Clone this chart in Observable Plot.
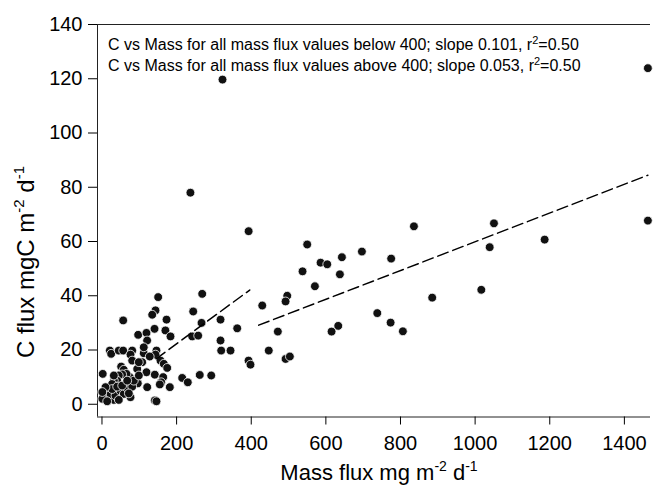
<!DOCTYPE html>
<html><head><meta charset="utf-8">
<script src="https://cdn.jsdelivr.net/npm/d3@7"></script>
<script src="https://cdn.jsdelivr.net/npm/@observablehq/plot@0.6"></script>
<style>
body{margin:0;background:#fff;}
#chart{width:655px;height:485px;}
</style>
</head><body><div id="chart"></div>
<script>
// Mass flux (mg m-2 d-1) and C flux (mgC m-2 d-1)
const massLow = [2,21,24.6,45,56.8,81,76.4,112,146,143.4,156.8,165.7,174.8,128,107.7,81,94.4,51.4,58.4,119.3,141.6,164,158.7,155,181.8,121.2,96,141.6,146,215,230,262,292.8,76.4,63,74.5,65.7,54,45,40.7,31.8,27.3,13.9,9.4,4.9,18.3,31.8,22.8,36.2,49.6,58.6,45.1,67.6,27.3,1,13.9,40.7,54.1,81,85.4,67.6,98.8,31.8,9.4,1,98.7,72,
  150.6,268.6,143.4,134.6,56.8,173,244.5,266.8,317.7,97,119.3,140.8,170,183.6,121,112,241.8,257.8,317.7,362.4,319.5,344.5,392.8,398,237,393,323];
const carbonLow = [11.2,19.8,18.6,19.8,19.8,19.8,18.3,18.8,19.8,18.3,16.1,14.9,13.4,17.6,15.5,16.1,13,13.9,12.7,11.8,10.9,10,8.1,7.3,6.3,6.3,7.7,1.4,1.1,9.7,8.1,10.8,10.6,2.6,4.4,10,11.2,11,10.6,8.7,8.7,7.5,5,3.8,2.9,2,1.6,3.8,3.2,5,3.8,1.6,6,5.6,2,1.1,6.5,6.9,6.5,8.7,8.7,10.6,10.6,6.3,4.5,15.5,4,
  39.5,40.7,34.6,33,30.9,31.2,34.2,30,31.2,25.6,26.3,27.8,27.2,25,23.5,21,25,25.3,23.5,28,19.8,19.8,16.1,14.6,78,63.8,119.7];
const massHigh = [429.5,496.5,492,447,471.3,492,503.5,537.5,550,585.8,603.7,637.6,643,570.6,696.6,775,836,615.3,633.2,737.8,773.5,806.4,885,1016.6,1039,1050.5,1186.3,1463,1463];
const carbonHigh = [36.4,40,37.9,19.8,26.8,16.7,17.6,49,58.9,52.2,51.6,47.9,54.2,43.5,56.3,53.7,65.6,26.8,28.9,33.6,30.1,26.9,39.3,42.2,57.9,66.7,60.7,67.7,123.9];

// Regression fits (below / above 400)
const fitSlopes = [0.101, 0.053];
const fitIntercepts = [2.1, 6.9];
const fitFrom = [145, 420];
const fitTo = [396, 1463];

const xTicks = [0,200,400,600,800,1000,1200,1400];
const yTicks = [0,20,40,60,80,100,120,140];
const noteStart = ["C vs Mass for all mass flux values below 400; slope 0.101, r", "C vs Mass for all mass flux values above 400; slope 0.053, r"];
const noteEnd = ["=0.50", "=0.50"];

const points = massLow.map((m,i)=>({mass:m, carbon:carbonLow[i]}))
  .concat(massHigh.map((m,i)=>({mass:m, carbon:carbonHigh[i]})));
const fits = fitSlopes.flatMap((s,i)=>[
  {fit:i, mass:fitFrom[i], carbon:fitIntercepts[i]+s*fitFrom[i]},
  {fit:i, mass:fitTo[i], carbon:fitIntercepts[i]+s*fitTo[i]}
]);

const xDom = [-12, 1470], yDom = [-4.7, 140];
const font = "'Liberation Sans', Arial, sans-serif";

const chart = Plot.plot({
  width: 655, height: 485,
  marginLeft: 97, marginRight: 5, marginTop: 24, marginBottom: 68.5,
  x: {domain: xDom},
  y: {domain: yDom},
  style: {fontFamily: font, fontSize: "20px", color: "#000", background: "#fff"},
  marks: [
    Plot.ruleY([yDom[1]], {stroke: "#222", strokeWidth: 1}),
    Plot.ruleY([yDom[0]], {stroke: "#222", strokeWidth: 1}),
    Plot.ruleX([xDom[0]], {stroke: "#222", strokeWidth: 1}),
    Plot.axisX({ticks: xTicks, tickSize: 8, tickPadding: 11, label: null, fontSize: 20, tickFormat: d=>String(d)}),
    Plot.axisY({ticks: yTicks, tickSize: 9, tickPadding: 6, label: null, fontSize: 20, tickFormat: d=>String(d)}),
    Plot.dot(points, {x: "mass", y: "carbon", r: 4.4, fill: "#111", stroke: "#fff", strokeWidth: 0.8}),
    Plot.line(fits, {x: "mass", y: "carbon", z: "fit", stroke: "#000", strokeWidth: 1.5, strokeDasharray: "11,5"})
  ]
});
document.getElementById("chart").appendChild(chart);

const svg = d3.select(chart);
// notes
noteStart.forEach((t,i)=>{
  const tx = svg.append("text").attr("x",108).attr("y",50+i*21).attr("text-anchor","start")
    .attr("font-family",font).attr("font-size",16).attr("fill","#000");
  tx.append("tspan").text(t);
  tx.append("tspan").attr("dy",-6).attr("font-size",11).text("2");
  tx.append("tspan").attr("dy",6).text(noteEnd[i]);
});
// y title
const yt = svg.append("text").attr("transform","translate(34,262) rotate(-90)")
  .attr("text-anchor","middle").attr("font-family",font).attr("font-size",24).attr("fill","#000");
yt.append("tspan").text("C flux mgC m");
yt.append("tspan").attr("dy",-10).attr("font-size",15).text("-2");
yt.append("tspan").attr("dy",10).text(" d");
yt.append("tspan").attr("dy",-10).attr("font-size",15).text("-1");
// x title
const xt = svg.append("text").attr("x",379).attr("y",480).attr("text-anchor","middle")
  .attr("font-family",font).attr("font-size",22).attr("fill","#000");
xt.append("tspan").text("Mass flux mg m");
xt.append("tspan").attr("dy",-9).attr("font-size",14).text("-2");
xt.append("tspan").attr("dy",9).text(" d");
xt.append("tspan").attr("dy",-9).attr("font-size",14).text("-1");
</script>
</body></html>
